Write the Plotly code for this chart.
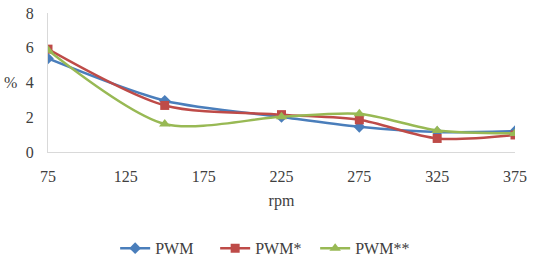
import plotly.graph_objects as go

rpm = [75, 150, 225, 275, 325, 375]
pwm = [5.38, 2.95, 2.02, 1.45, 1.15, 1.2]
pwm_s = [5.92, 2.68, 2.15, 1.85, 0.78, 0.98]
pwm_ss = [5.86, 1.61, 2.03, 2.2, 1.24, 1.07]
x_ticks = [75, 125, 175, 225, 275, 325, 375]
y_ticks = [0, 2, 4, 6, 8]

FAM = "Liberation Serif"

fig = go.Figure()
series = [
    ("PWM", pwm, "#4A7EBB", "diamond", 9),
    ("PWM*", pwm_s, "#BE4B48", "square", 9),
    ("PWM**", pwm_ss, "#98B954", "triangle-up", 10),
]
for name, ys, col, sym, sz in series:
    fig.add_trace(go.Scatter(
        x=rpm, y=ys, name=name, mode="lines+markers",
        line=dict(color=col, width=2.5, shape="spline", smoothing=0.8),
        marker=dict(symbol=sym, size=sz, color=col),
    ))

fig.update_layout(
    width=551, height=257,
    margin=dict(l=48, r=36, t=13, b=105, autoexpand=False),
    plot_bgcolor="white", paper_bgcolor="white",
    font=dict(family=FAM, size=16, color="#404040"),
    showlegend=True,
    legend=dict(orientation="h", x=0.465, xanchor="center", y=-0.57, yanchor="top",
                font=dict(size=16, family=FAM), itemwidth=30,
                entrywidth=55, entrywidthmode="pixels"),
    xaxis=dict(range=[75, 375], tickvals=x_ticks, showgrid=False, zeroline=False,
               showline=True, linecolor="#D9D9D9", linewidth=1, ticks="outside",
               ticklen=10, tickcolor="rgba(0,0,0,0)", automargin=False,
               tickfont=dict(family=FAM, size=16),
               title=dict(text="rpm", font=dict(size=16, family=FAM), standoff=10)),
    yaxis=dict(range=[0, 8], tickvals=y_ticks, showgrid=False, zeroline=False,
               showline=True, linecolor="#D9D9D9", linewidth=1, ticks="outside",
               ticklen=10, tickcolor="rgba(0,0,0,0)", automargin=False,
               tickfont=dict(family=FAM, size=16)),
)
fig.add_annotation(text="%", xref="paper", yref="paper", x=-0.081, y=0.5,
                   xanchor="center", yanchor="middle", showarrow=False,
                   font=dict(size=16, family=FAM))
fig.write_html("out.html")
